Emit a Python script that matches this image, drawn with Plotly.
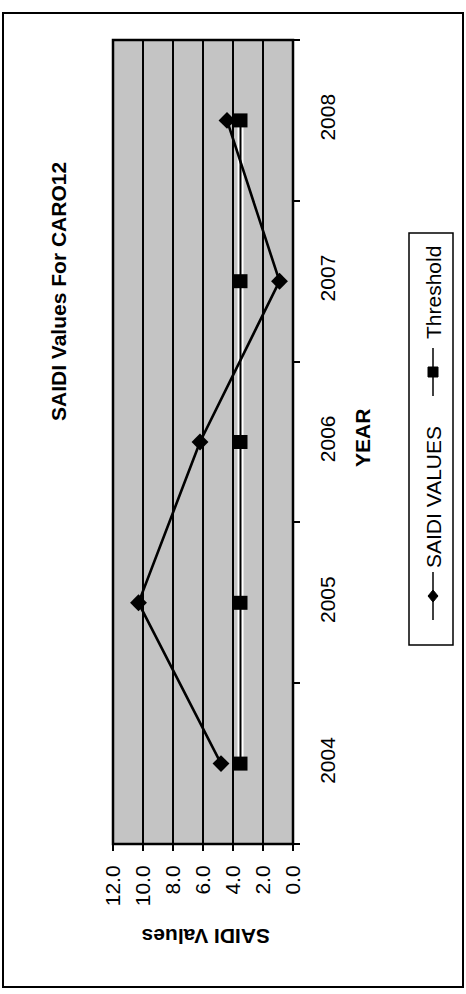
import plotly.graph_objects as go

# ---- data ----
years = ["2004", "2005", "2006", "2007", "2008"]
saidi_values = [4.8, 10.3, 6.2, 0.9, 4.4]
threshold_values = [3.5, 3.5, 3.5, 3.5, 3.5]
value_ticks = [0, 2, 4, 6, 8, 10, 12]
value_tick_labels = ["0.0", "2.0", "4.0", "6.0", "8.0", "10.0", "12.0"]

# ---- page geometry (pixels) ----
W, H = 466, 994
PL, PR, PT, PB = 113, 293, 40, 844  # plot area edges


def px_x(px):
    return (px - PL) / (PR - PL)


def px_y(py):
    return (PB - py) / (PB - PT)


FONT = "Liberation Sans, Arial, Helvetica, sans-serif"

fig = go.Figure()

# white casing under the threshold line
fig.add_trace(go.Scatter(
    x=threshold_values, y=years, mode="lines",
    line=dict(color="white", width=6),
    showlegend=False, hoverinfo="skip",
))
fig.add_trace(go.Scatter(
    x=saidi_values, y=years, name="SAIDI VALUES",
    mode="lines+markers",
    line=dict(color="black", width=2.6),
    marker=dict(symbol="diamond", size=13, color="black"),
    showlegend=False, cliponaxis=False,
))
fig.add_trace(go.Scatter(
    x=threshold_values, y=years, name="Threshold",
    mode="lines+markers",
    line=dict(color="black", width=2),
    marker=dict(symbol="square", size=14, color="black"),
    showlegend=False, cliponaxis=False,
))

fig.update_layout(
    width=W, height=H, autosize=False,
    margin=dict(l=PL, r=W - PR, t=PT, b=H - PB, pad=0),
    paper_bgcolor="white",
    plot_bgcolor="#c4c4c4",
    font=dict(family=FONT, size=21, color="black"),
    showlegend=False,
)

fig.update_xaxes(
    range=[12, 0],
    tickvals=value_ticks, ticktext=value_tick_labels,
    tickangle=-90,
    ticks="outside", ticklen=6, tickwidth=1.5, tickcolor="black",
    ticklabelstandoff=6,
    showgrid=True, gridcolor="black", gridwidth=2,
    zeroline=False, showline=False,
    tickfont=dict(size=21),
)
fig.update_yaxes(
    type="category", categoryorder="array", categoryarray=years,
    range=[-0.5, 4.5],
    side="right",
    tickson="boundaries",
    tickangle=-90,
    ticks="outside", ticklen=6, tickwidth=1.5, tickcolor="black",
    ticklabelstandoff=20,
    showgrid=False, zeroline=False, showline=False,
    tickfont=dict(size=21),
)

shapes = [
    # plot area frame
    dict(type="rect", xref="paper", yref="paper", x0=0, x1=1, y0=0, y1=1,
         line=dict(color="black", width=2.5), layer="above"),
    # chart area frame
    dict(type="rect", xref="paper", yref="paper",
         x0=px_x(3), x1=px_x(463), y0=px_y(987), y1=px_y(13),
         line=dict(color="black", width=2)),
    # legend box
    dict(type="rect", xref="paper", yref="paper",
         x0=px_x(409), x1=px_x(453), y0=px_y(645), y1=px_y(233),
         line=dict(color="black", width=1.5)),
]

# legend keys
LEG_X = 433
for (y0, y1, ym, sym) in [(572, 620, 596, "diamond"), (348, 396, 372, "square")]:
    shapes.append(dict(type="line", xref="paper", yref="paper",
                       x0=px_x(LEG_X), x1=px_x(LEG_X), y0=px_y(y0), y1=px_y(y1),
                       line=dict(color="black", width=1.5)))
    r = 5
    if sym == "diamond":
        path = (f"M{px_x(LEG_X - r)},{px_y(ym)} L{px_x(LEG_X)},{px_y(ym - r - 1)} "
                f"L{px_x(LEG_X + r)},{px_y(ym)} L{px_x(LEG_X)},{px_y(ym + r + 1)} Z")
        shapes.append(dict(type="path", xref="paper", yref="paper", path=path,
                           fillcolor="black", line=dict(color="black", width=1)))
    else:
        shapes.append(dict(type="rect", xref="paper", yref="paper",
                           x0=px_x(LEG_X - r), x1=px_x(LEG_X + r),
                           y0=px_y(ym + r), y1=px_y(ym - r),
                           fillcolor="black", line=dict(color="black", width=1)))


def label(text, cx, cy, angle, size=21):
    return dict(text=text, x=px_x(cx), y=px_y(cy), xref="paper", yref="paper",
                xanchor="center", yanchor="middle", showarrow=False,
                textangle=angle, font=dict(size=size))


annotations = [
    label("<b>SAIDI Values For CARO12</b>", 58, 292, -90),
    label("<b>YEAR</b>", 362, 438, -90),
    label("<b>SAIDI Values</b>", 206, 937, 180),
    label("SAIDI VALUES", 433, 497, -90),
    label("Threshold", 433, 293, -90),
]

fig.update_layout(shapes=shapes, annotations=annotations)

fig.write_html("out.html")
